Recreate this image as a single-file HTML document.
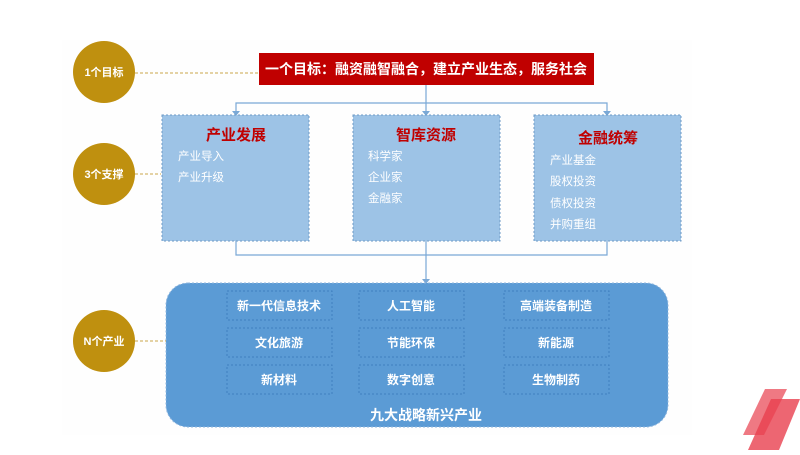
<!DOCTYPE html>
<html><head><meta charset="utf-8"><style>
body{margin:0;width:800px;height:450px;background:#fff;overflow:hidden;font-family:"Liberation Sans","Noto Sans CJK SC",sans-serif;}
</style></head><body>
<svg width="800" height="450" xmlns="http://www.w3.org/2000/svg" font-family="Liberation Sans, Noto Sans CJK SC, sans-serif" font-weight="bold">
<rect x="62" y="40" width="630" height="395" fill="#fefefe"/>
<g fill="#bf900f">
<circle cx="104" cy="72" r="31"/>
<circle cx="104" cy="174" r="31"/>
<circle cx="104" cy="341" r="31"/>
</g>
<g fill="#fff" font-size="11" text-anchor="middle">
<text x="104" y="76">1个目标</text>
<text x="104" y="178">3个支撑</text>
<text x="104" y="345">N个产业</text>
</g>
<g stroke="#c9a54a" stroke-dasharray="3,2" stroke-width="1">
<line x1="135" y1="73" x2="258" y2="73"/>
<line x1="135" y1="174" x2="161" y2="174"/>
<line x1="135" y1="341" x2="166" y2="341"/>
</g>
<rect x="259" y="53" width="335" height="32" fill="#c00000"/>
<text x="426" y="74" fill="#fff" font-size="14" text-anchor="middle">一个目标：融资融智融合，建立产业生态，服务社会</text>
<g stroke="#7aa8d6" stroke-width="1.2" fill="none">
<line x1="426" y1="85" x2="426" y2="114"/>
<polyline points="236,114 236,103 607,103 607,114"/>
<polyline points="236,241 236,255 607,255 607,241"/>
<line x1="426" y1="241" x2="426" y2="282"/>
</g>
<g fill="#7aa8d6">
<path d="M232,111 L240,111 L236,116Z"/><path d="M422,111 L430,111 L426,116Z"/><path d="M603,111 L611,111 L607,116Z"/><path d="M422,279 L430,279 L426,284Z"/>
</g>
<g fill="#9dc3e6" stroke="#6f9bc7" stroke-dasharray="2,2">
<rect x="162" y="115" width="147" height="126"/>
<rect x="353" y="115" width="147" height="126"/>
<rect x="534" y="115" width="147" height="126"/>
</g>
<g fill="#c00000" font-size="15" text-anchor="middle">
<text x="236" y="140">产业发展</text>
<text x="426" y="140">智库资源</text>
<text x="608" y="143">金融统筹</text>
</g>
<g fill="#fff" font-size="11.5" font-weight="normal">
<text x="178" y="160">产业导入</text><text x="178" y="181">产业升级</text>
<text x="368" y="160">科学家</text><text x="368" y="181">企业家</text><text x="368" y="202">金融家</text>
<text x="550" y="164">产业基金</text><text x="550" y="185">股权投资</text><text x="550" y="207">债权投资</text><text x="550" y="228">并购重组</text>
</g>
<rect x="166" y="283" width="502" height="144" rx="22" fill="#5b9bd5" stroke="#8fb5dd" stroke-dasharray="2,2"/>
<g fill="none" stroke="#3f7fbf" stroke-dasharray="2,2">
<rect x="227" y="291" width="105" height="29"/><rect x="359" y="291" width="105" height="29"/><rect x="504" y="291" width="105" height="29"/>
<rect x="227" y="328" width="105" height="29"/><rect x="359" y="328" width="105" height="29"/><rect x="504" y="328" width="105" height="29"/>
<rect x="227" y="365" width="105" height="29"/><rect x="359" y="365" width="105" height="29"/><rect x="504" y="365" width="105" height="29"/>
</g>
<g fill="#fff" font-size="12" text-anchor="middle">
<text x="279" y="310">新一代信息技术</text><text x="411" y="310">人工智能</text><text x="556" y="310">高端装备制造</text>
<text x="279" y="347">文化旅游</text><text x="411" y="347">节能环保</text><text x="556" y="347">新能源</text>
<text x="279" y="384">新材料</text><text x="411" y="384">数字创意</text><text x="556" y="384">生物制药</text>
</g>
<text x="426" y="420" fill="#fff" font-size="14" text-anchor="middle">九大战略新兴产业</text>
<polygon points="765,389 787,389 764,435 743,435" fill="#e8404f" opacity="0.7"/>
<polygon points="771,399 800,399 779,450 748,450" fill="#e8404f" opacity="0.8"/>
</svg>
</body></html>
